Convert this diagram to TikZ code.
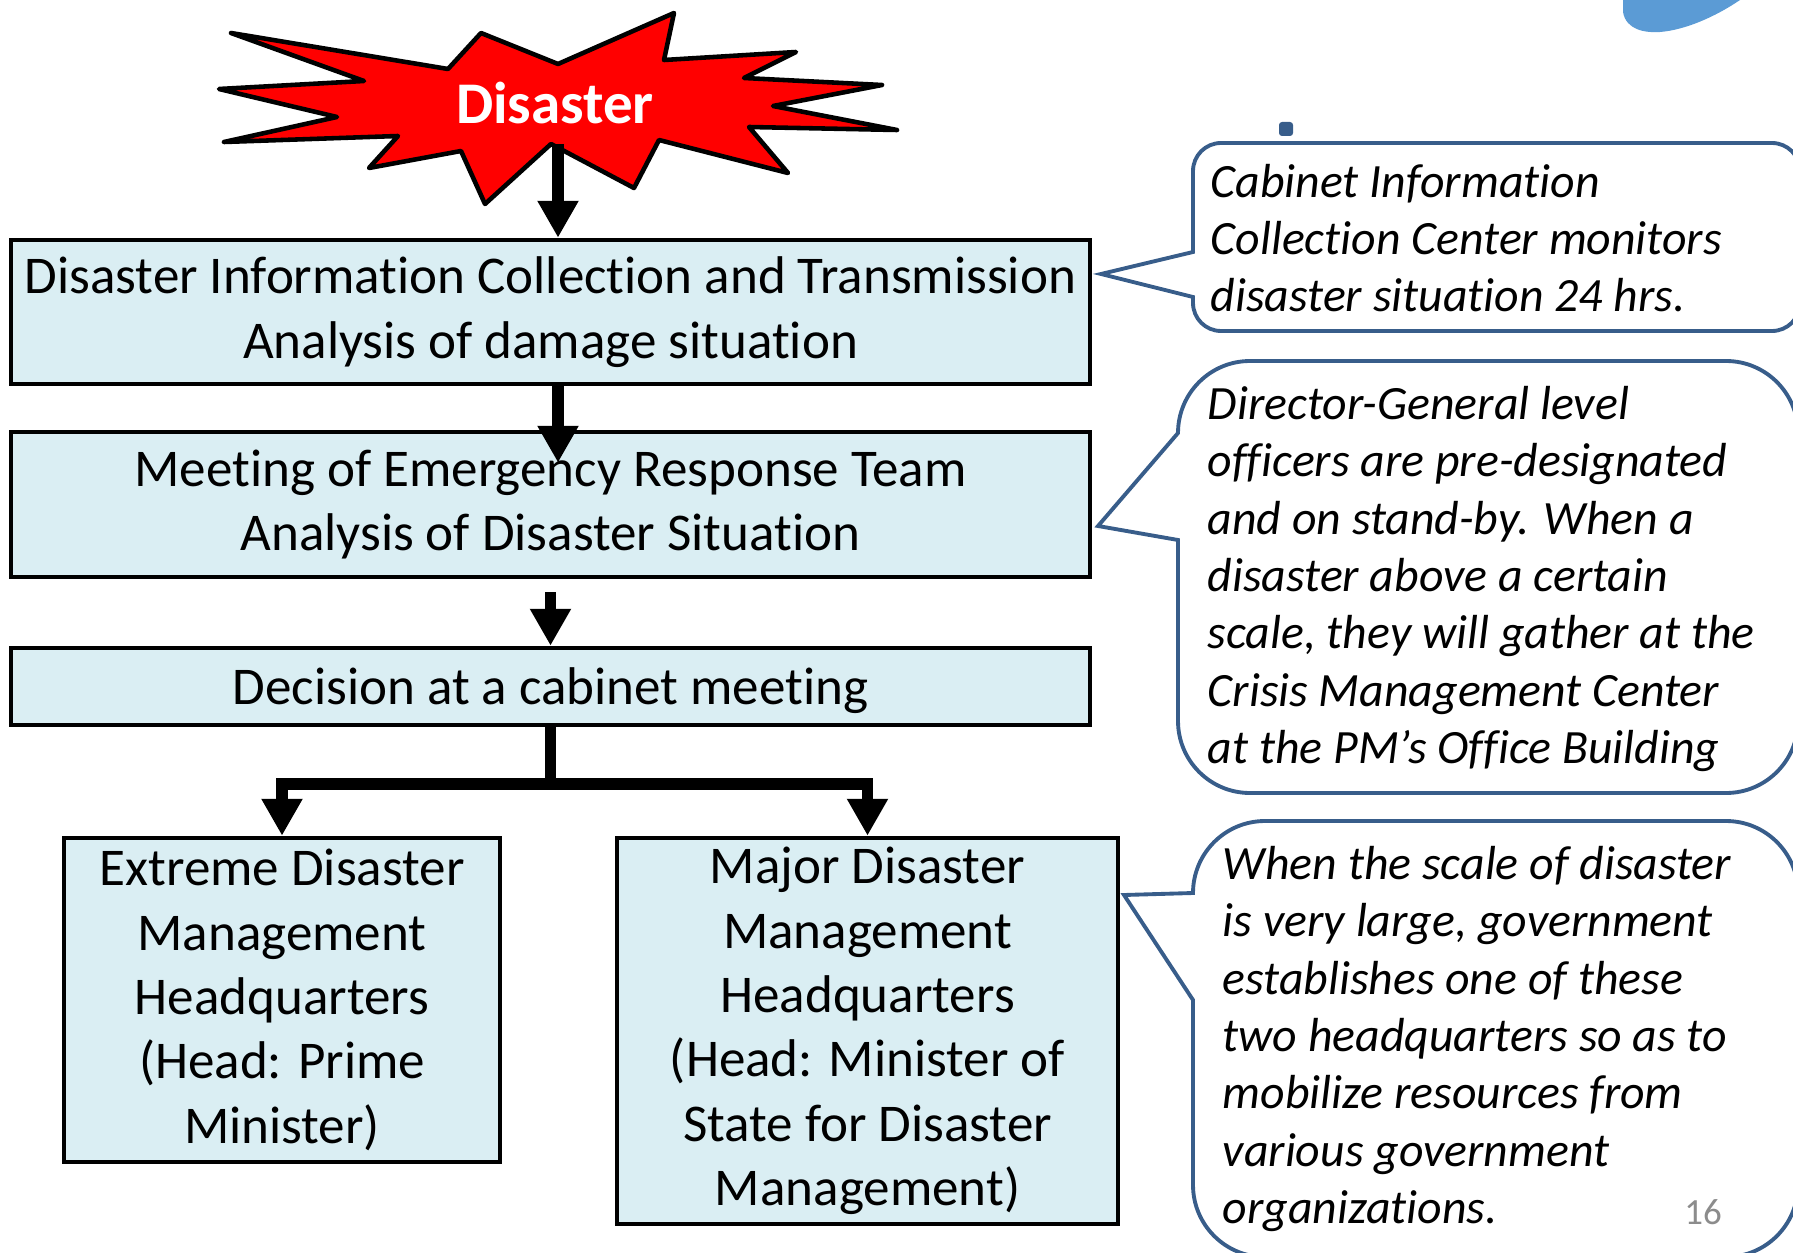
\documentclass[tikz,border=0pt]{standalone}
\usepackage{fontspec}
\setmainfont{Carlito}[Ligatures=NoCommon]
\usetikzlibrary{arrows.meta}
\definecolor{stagefill}{RGB}{218,238,243}
\definecolor{noteline}{RGB}{56,93,138}
\definecolor{blobblue}{RGB}{91,155,213}
\definecolor{pagegray}{RGB}{140,140,140}

\begin{document}
\begin{tikzpicture}[>={Triangle[width=11pt,length=10.5pt]},
  stage/.style={draw, line width=1.3pt, fill=stagefill, inner sep=0pt, align=center,
    font=\fontsize{15.1}{18.3}\selectfont, execute at begin node={\rule{0pt}{13pt}}},
  flow/.style={->, line width=3.4pt},
  note/.style={draw=noteline, line width=1.1pt, fill=white},
  notetext/.style={anchor=west, inner sep=0pt, align=left,
    font=\fontsize{13.6}{16.3}\selectfont\itshape}]
\useasboundingbox (0,0) rectangle (17.93,12.52);
\clip (0,0) rectangle (17.93,12.52);

% the burst
\draw[line width=1.3pt, line join=round, fill=red]
  (2.31,12.19) -- (4.48,11.83) -- (4.81,12.19) -- (5.58,11.88) -- (6.74,12.39)
  -- (6.64,11.92) -- (7.96,12.00) -- (7.44,11.74) -- (8.82,11.67) -- (7.73,11.46)
  -- (8.97,11.22) -- (7.49,11.25) -- (7.88,10.79) -- (6.59,11.12) -- (6.34,10.64)
  -- (5.51,11.08) -- (4.85,10.48) -- (4.61,11.01) -- (3.69,10.84) -- (3.98,11.16)
  -- (2.24,11.10) -- (3.37,11.35) -- (2.19,11.63) -- (3.64,11.71) -- cycle;
\node[text=white, font=\fontsize{16.8}{19}\selectfont\bfseries] (disaster) at (5.55,11.49) {Disaster};
\coordinate (burst) at (5.58,11.08);

% flow boxes
\node[stage, minimum width=10.79cm, minimum height=1.44cm] (info) at (5.505,9.40)
  {Disaster Information Collection and Transmission\\ Analysis of damage situation};
\node[stage, minimum width=10.79cm, minimum height=1.45cm] (meeting) at (5.505,7.475)
  {Meeting of Emergency Response Team\\ Analysis of Disaster Situation};
\node[stage, minimum width=10.79cm, minimum height=0.77cm] (decision) at (5.505,5.655)
  {Decision at a cabinet meeting};
\node[stage, minimum width=4.36cm, minimum height=3.24cm] (extreme) at (2.82,2.52)
  {Extreme Disaster\\ Management\\ Headquarters\\ (Head: Prime\\ Minister)};
\node[stage, minimum width=5.01cm, minimum height=3.86cm] (major) at (8.675,2.21)
  {Major Disaster\\ Management\\ Headquarters\\ (Head: Minister of\\ State for Disaster\\ Management)};

\draw[flow] (burst) -- (burst |- info.north);
\draw[flow] (burst |- info.south) -- ([yshift=-3.3mm]burst |- meeting.north);
\draw[flow] ([yshift=-1.3mm]meeting.south) -- (decision.north);
\draw[flow] (decision.south) -- ++(0,-0.57) -| (extreme.north);
\draw[flow] (decision.south) -- ++(0,-0.57) -| (major.north);

% callouts
\draw[note] (11.93,10.00) -- (11.93,10.81) arc[start angle=180,end angle=90,radius=0.28]
  -- (17.72,11.09) arc[start angle=90,end angle=0,radius=0.28]
  -- (18.00,9.49) arc[start angle=0,end angle=-90,radius=0.28]
  -- (12.21,9.21) arc[start angle=270,end angle=180,radius=0.28]
  -- (11.93,9.55) -- (11.01,9.78) -- cycle;
\node[notetext] (cabinet) at (12.10,10.14)
  {Cabinet Information\\ Collection Center monitors\\ disaster situation 24 hrs.};

\draw[note] (11.78,7.12) -- (10.98,7.26) -- (11.78,8.19) arc[start angle=180,end angle=90,radius=0.72]
  -- (17.26,8.91) arc[start angle=90,end angle=0,radius=0.72]
  -- (17.98,5.31) arc[start angle=0,end angle=-90,radius=0.72]
  -- (12.50,4.59) arc[start angle=270,end angle=180,radius=0.72] -- cycle;
\node[notetext] (officers) at (12.07,6.73)
  {Director-General level\\ officers are pre-designated\\ and on stand-by. When a\\ disaster above a certain\\
   scale, they will gather at the\\ Crisis Management Center\\ at the PM’s Office Building};

\draw[note] (11.93,2.52) -- (11.24,3.57) -- (11.93,3.59) arc[start angle=180,end angle=90,radius=0.72]
  -- (17.26,4.31) arc[start angle=90,end angle=0,radius=0.72]
  -- (17.98,0.67) arc[start angle=0,end angle=-90,radius=0.72]
  -- (12.65,-0.05) arc[start angle=270,end angle=180,radius=0.72] -- cycle;
\node[notetext] (scale) at (12.22,2.13)
  {When the scale of disaster\\ is very large, government\\ establishes one of these\\ two headquarters so as to\\
   mobilize resources from\\ various government\\ organizations.};

\node[text=pagegray, font=\fontsize{10.5}{12}\selectfont] (pagenum) at (17.03,0.40) {16};

% slide leftovers
\fill[blobblue] (16.23,12.52) -- (16.23,12.40) .. controls (16.26,12.22) and (16.45,12.19) .. (16.60,12.20)
  .. controls (16.85,12.22) and (17.15,12.35) .. (17.40,12.52) -- cycle;
\fill[noteline, rounded corners=0.3mm] (12.79,11.16) rectangle (12.93,11.30);
\end{tikzpicture}
\end{document}
